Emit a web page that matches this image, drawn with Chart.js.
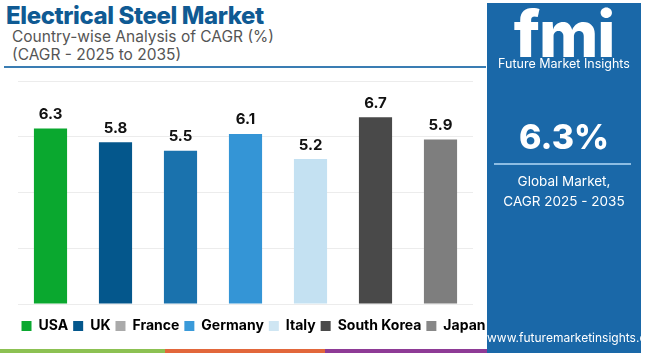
<!DOCTYPE html>
<html>
<head>
<meta charset="utf-8">
<script src="https://cdn.jsdelivr.net/npm/chart.js@4.4.0/dist/chart.umd.min.js"></script>
<style>
  html, body { margin: 0; padding: 0; background: #fff; }
  body { width: 650px; height: 353px; position: relative; overflow: hidden; font-family: "Inter", "Open Sans", sans-serif; }
  .title { position: absolute; left: 6px; top: 1px; font-size: 24px; font-weight: 800; color: #0f5a93; letter-spacing: -0.4px; }
  .sub { position: absolute; left: 12px; font-size: 15.5px; color: #555; }
  .rule { position: absolute; left: 4px; top: 66px; width: 482px; height: 2px; background: #3a7db3; }
  .panel { position: absolute; left: 487px; top: 3px; width: 154px; height: 350px; background: #1a68a8; color: #fff; text-align: center; }
  .logo { position: absolute; top: 0px; left: 0; width: 154px; font-size: 64px; font-weight: 800; letter-spacing: -1px; line-height: 62px; }
  .logo-sub { position: absolute; top: 53px; left: 0; width: 154px; font-size: 12.5px; }
  .big { position: absolute; top: 113px; left: 0; width: 154px; font-size: 34px; font-weight: 800; }
  .line { position: absolute; top: 160px; left: 7px; width: 137px; height: 2px; background: #8dbde3; }
  .desc { position: absolute; top: 168px; left: 0; width: 154px; font-size: 13.5px; line-height: 20px; }
  .url { position: absolute; top: 327px; left: 0; width: 154px; font-size: 12px; }
  .strip { position: absolute; top: 349px; height: 4px; }
  #wrap { position: absolute; left: 0; top: 68px; width: 507px; height: 275px; }
</style>
</head>
<body>
<div class="title">Electrical Steel Market</div>
<div class="sub" style="top:27px">Country-wise Analysis of CAGR (%)</div>
<div class="sub" style="top:45px">(CAGR - 2025 to 2035)</div>
<div class="rule"></div>

<div id="wrap"><canvas id="chart"></canvas></div>

<div class="strip" style="left:0;width:165px;background:#8cc152"></div>
<div class="strip" style="left:165px;width:160px;background:#e2673b"></div>
<div class="strip" style="left:325px;width:162px;background:#8e3b96"></div>

<div class="panel">
  <div class="logo">fmi</div>
  <div class="logo-sub">Future Market Insights</div>
  <div class="big">6.3%</div>
  <div class="line"></div>
  <div class="desc">Global Market,<br>CAGR 2025 - 2035</div>
  <div class="url">www.futuremarketinsights.com</div>
</div>

<script>
const countries = ["USA", "UK", "France", "Germany", "Italy", "South Korea", "Japan"];
const cagr = [6.3, 5.8, 5.5, 6.1, 5.2, 6.7, 5.9];
const yTicks = [0, 2, 4, 6, 8];
const barColors = ["#0aa82f", "#04578c", "#1a72ad", "#3495d6", "#c4e1f2", "#494949", "#7e7e7e"];
const legendColors = ["#0aa82f", "#04578c", "#aaaaaa", "#3a9ad9", "#cfe6f3", "#4a4a4a", "#888888"];

// draws the value above each bar
const valueLabels = {
  id: "valueLabels",
  afterDatasetsDraw(chart) {
    const ctx = chart.ctx;
    const meta = chart.getDatasetMeta(0);
    ctx.save();
    ctx.font = "bold 15px Inter, 'Open Sans', sans-serif";
    ctx.fillStyle = "#111";
    ctx.textAlign = "center";
    ctx.textBaseline = "middle";
    meta.data.forEach((bar, i) => {
      ctx.fillText(cagr[i].toFixed(1), bar.x, bar.y - 14);
    });
    ctx.restore();
  }
};

const hiddenAxis = { ticks: { display: false }, border: { display: false }, grid: { display: false } };

new Chart(document.getElementById("chart"), {
  type: "bar",
  data: {
    labels: countries,
    datasets: [{
      data: cagr,
      backgroundColor: barColors,
      categoryPercentage: 1,
      barPercentage: 0.51
    }]
  },
  options: {
    responsive: true,
    maintainAspectRatio: false,
    animation: false,
    layout: { padding: { left: 0, right: 0, top: 13, bottom: 0 } },
    scales: {
      x: { ...hiddenAxis, afterFit: (axis) => { axis.height = 10; } },
      y: {
        min: yTicks[0],
        max: yTicks[yTicks.length - 1],
        afterBuildTicks: (axis) => { axis.ticks = yTicks.map(v => ({ value: v })); },
        afterFit: (axis) => { axis.width = 18; },
        ticks: { display: false },
        border: { display: false },
        grid: { color: "#ececec", drawTicks: false }
      },
      y2: { ...hiddenAxis, position: "right", afterFit: (axis) => { axis.width = 34; } }
    },
    plugins: {
      tooltip: { enabled: false },
      legend: {
        position: "bottom",
        labels: {
          boxWidth: 10,
          boxHeight: 10,
          padding: 5,
          color: "#000",
          font: { family: "Inter, 'Open Sans', sans-serif", size: 14, weight: "bold" },
          generateLabels: () => countries.map((c, i) => ({
            text: c,
            fillStyle: legendColors[i],
            strokeStyle: legendColors[i],
            lineWidth: 0,
            index: i
          }))
        }
      }
    }
  },
  plugins: [valueLabels]
});
</script>
</body>
</html>
